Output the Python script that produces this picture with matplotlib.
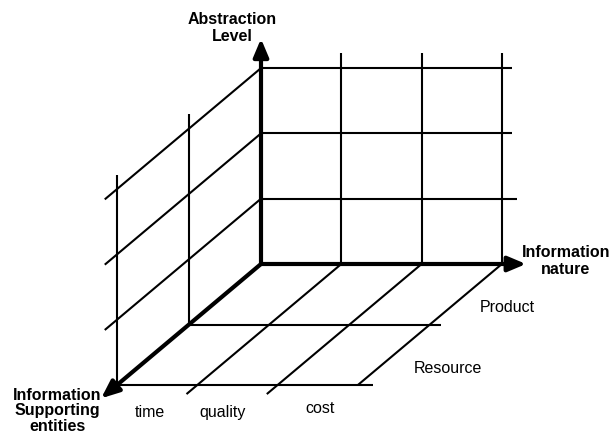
import matplotlib
matplotlib.use("Agg")
import matplotlib.pyplot as plt
import numpy as np

# ---- data (grid levels and labels) ----
nature_levels = [1, 2, 3]          # columns along "Information nature"
abstraction_levels = [1, 2, 3]     # rows along "Abstraction Level"
entity_levels = [1, 2]             # depth along "Information Supporting entities"
column_labels = ["time", "quality", "cost"]
depth_labels = ["Product", "Resource"]
axis_titles = ["Abstraction\nLevel", "Information\nnature", "Information\nSupporting\nentities"]

# ---- layout (oblique projection in pixel space) ----
ORIGIN = np.array([261.0, 265.0])
EX = np.array([80.3, 0.0])
EZ = np.array([0.0, -65.3])
EY = np.array([-72.0, 60.5])

def P(x, y, z):
    return ORIGIN + x * EX + y * EY + z * EZ

fig = plt.figure(figsize=(6.12, 4.35), dpi=100)
ax = fig.add_axes([0, 0, 1, 1])
ax.set_xlim(0, 612)
ax.set_ylim(435, 0)
ax.axis("off")

thin = dict(color="black", lw=1.5, solid_capstyle="butt")

def seg(a, b, **kw):
    ax.plot([a[0], b[0]], [a[1], b[1]], **kw)

# back wall (x-z plane)
for i, z in enumerate(abstraction_levels):
    xend = 3.19 if z == 1 else 3.125
    seg(P(0, 0, z), P(xend, 0, z), **thin)
for x in nature_levels:
    seg(P(x, 0, 0), P(x, 0, 3.23), **thin)

# left wall (y-z plane)
for z in abstraction_levels:
    seg(P(0, 0, z), P(0, 2.17, z), **thin)
for y in entity_levels:
    seg(P(0, y, 0), P(0, y, 3.22), **thin)

# floor (x-y plane)
for y in entity_levels:
    xend = 3.14 if y == 1 else 3.19
    seg(P(0, y, 0), P(xend, y, 0), **thin)
for x in nature_levels:
    yend = 2.0 if x == 3 else 2.15
    seg(P(x, 0, 0), P(x, yend, 0), **thin)

# thick axes with arrows
def arrow(end):
    o = P(0, 0, 0)
    ax.annotate("", xy=end, xytext=o,
                arrowprops=dict(arrowstyle="-|>,head_length=0.9,head_width=0.38",
                                lw=3, color="black", shrinkA=0, shrinkB=0,
                                mutation_scale=12))

arrow(P(0, 0, 3.45))
arrow(P(3.3, 0, 0))
arrow(P(0, 2.22, 0))

font = ["Liberation Sans", "DejaVu Sans"]
fs = 11.5
ax.text(232, 28, axis_titles[0], ha="center", va="center", fontsize=fs,
        fontweight="bold", family=font, linespacing=1.15)
ax.text(566, 261, axis_titles[1], ha="center", va="center", fontsize=fs,
        fontweight="bold", family=font, linespacing=1.15)
ax.text(57, 411, axis_titles[2], ha="center", va="center", fontsize=fs,
        fontweight="bold", family=font, linespacing=1.05)

for lbl, xy in zip(column_labels, [(150, 413), (223, 413), (320, 409)]):
    ax.text(xy[0], xy[1], lbl, ha="center", va="center", fontsize=fs, family=font)
for lbl, xy in zip(depth_labels, [(507, 308), (448, 369)]):
    ax.text(xy[0], xy[1], lbl, ha="center", va="center", fontsize=fs, family=font)

fig.savefig("out.png", dpi=100)
